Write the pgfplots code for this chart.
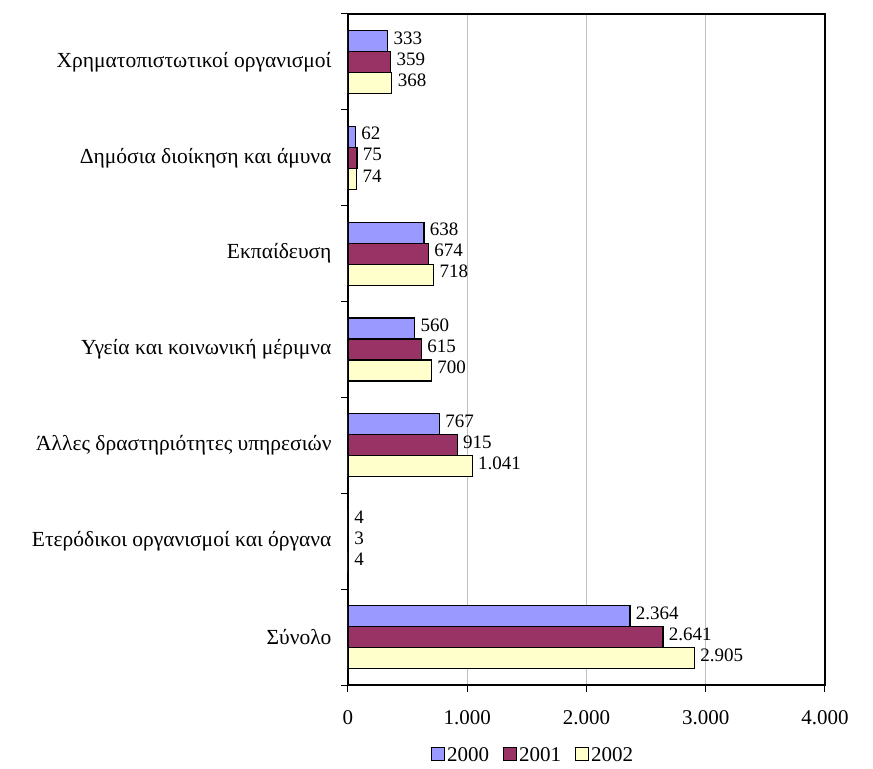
\documentclass[border=0pt]{standalone}
\usepackage{fontspec}
\setmainfont{Liberation Serif}
\usepackage{pgfplots}
\pgfplotsset{compat=1.18}
\definecolor{cA}{HTML}{9999FF}
\definecolor{cB}{HTML}{993366}
\definecolor{cC}{HTML}{FFFFCC}
\begin{document}
\begin{tikzpicture}
\begin{axis}[
  at={(0,0)}, anchor=south west,
  scale only axis, width=477bp, height=671bp,
  xbar, bar width=21bp,
  xmin=0, xmax=4000, ymin=-0.5, ymax=6.5,
  xtick={0,1000,2000,3000,4000},
  xtick pos=bottom, ytick pos=left,
  /pgf/number format/assume math mode=true,
  /pgf/number format/.cd, fixed, 1000 sep={.}, /pgfplots/.cd,
  xmajorgrids, major grid style={draw=black!25, line width=1.2bp},
  tick align=outside, major tick length=7bp,
  axis line style={line width=1.2bp},
  every tick/.style={black, line width=1bp},
  ytick={-0.5,0.5,...,6.5}, yticklabels={},
  extra y ticks={0,1,2,3,4,5,6},
  extra y tick labels={Σύνολο, Ετερόδικοι οργανισμοί και όργανα, Άλλες δραστηριότητες υπηρεσιών, Υγεία και κοινωνική μέριμνα\ , Εκπαίδευση, Δημόσια διοίκηση και άμυνα, Χρηματοπιστωτικοί οργανισμοί},
  extra y tick style={major tick length=0pt, yticklabel style={xshift=-13bp, font=\fontsize{21.5bp}{25bp}\selectfont}},
  tick label style={font=\fontsize{21bp}{25bp}\selectfont},
  xticklabel style={yshift=-15bp},
  nodes near coords,
  every node near coord/.append style={font=\fontsize{19bp}{22bp}\selectfont, xshift=2bp, yshift=3bp},
  legend columns=3,
  legend style={draw=none, at={(0.388,-0.104)}, anchor=center, font=\fontsize{21bp}{25bp}\selectfont, /tikz/every even column/.append style={column sep=12bp}},
  legend image code/.code={\draw[#1, line width=1bp] (0bp,-6bp) rectangle (13bp,7bp);},
]
\addplot[fill=cA, draw=black, line width=1.2bp, bar shift=21bp] coordinates {(2364,0) (4,1) (767,2) (560,3) (638,4) (62,5) (333,6)};
\addplot[fill=cB, draw=black, line width=1.2bp, bar shift=0bp] coordinates {(2641,0) (3,1) (915,2) (615,3) (674,4) (75,5) (359,6)};
\addplot[fill=cC, draw=black, line width=1.2bp, bar shift=-21bp] coordinates {(2905,0) (4,1) (1041,2) (700,3) (718,4) (74,5) (368,6)};
\legend{2000, 2001, 2002}
\end{axis}
\pgfresetboundingbox
\path[use as bounding box] (-348bp,-84bp) rectangle (525bp,685bp);
\end{tikzpicture}
\end{document}
